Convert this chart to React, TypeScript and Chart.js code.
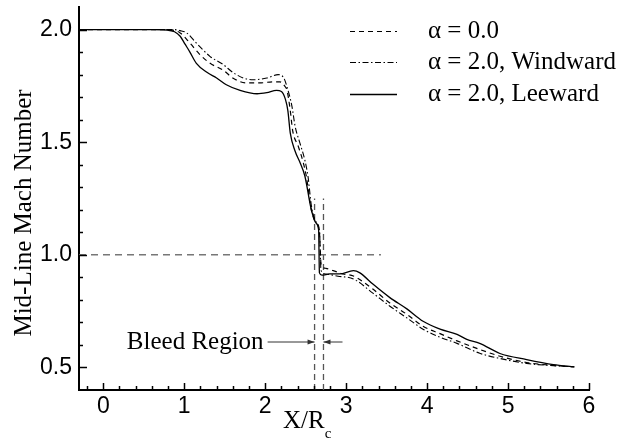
import React, { useEffect, useRef } from "react";
import { Chart, registerables } from "chart.js";

Chart.register(...registerables);

// ---- Axis ticks ----
const xTicks = [0, 1, 2, 3, 4, 5, 6];
const yTicks = [0.5, 1.0, 1.5, 2.0];

// ---- Series: alpha = 0.0 (dashed) ----
const alpha0X = [-0.3, 0.6, 0.85, 0.95, 1.07, 1.19, 1.32, 1.48, 1.6, 1.77, 1.93, 2.1, 2.18, 2.25, 2.27, 2.31, 2.34, 2.41, 2.47, 2.51, 2.57, 2.63, 2.67, 2.69, 2.75, 2.84, 2.96, 3.09, 3.33, 3.54, 3.75, 3.95, 4.16, 4.37, 4.65, 4.9, 5.23, 5.56, 5.82];
const alpha0Y = [2.0, 2.0, 1.997, 1.985, 1.94, 1.89, 1.85, 1.82, 1.785, 1.763, 1.763, 1.768, 1.768, 1.745, 1.73, 1.64, 1.55, 1.48, 1.41, 1.345, 1.2, 1.14, 1.1, 0.96, 0.94, 0.93, 0.915, 0.906, 0.848, 0.786, 0.736, 0.683, 0.65, 0.618, 0.58, 0.55, 0.522, 0.509, 0.503];

// ---- Series: alpha = 2.0, Windward (dash-dot) ----
const windX = [-0.3, 0.6, 0.86, 0.95, 1.03, 1.15, 1.32, 1.48, 1.6, 1.73, 1.85, 2.02, 2.16, 2.23, 2.27, 2.33, 2.37, 2.43, 2.49, 2.53, 2.57, 2.63, 2.67, 2.69, 2.75, 2.9, 3.09, 3.33, 3.54, 3.75, 3.95, 4.16, 4.37, 4.65, 4.9, 5.23, 5.56, 5.82];
const windY = [2.0, 2.0, 2.0, 1.995, 1.985, 1.94, 1.88, 1.845, 1.81, 1.785, 1.777, 1.785, 1.8, 1.785, 1.745, 1.66, 1.57, 1.495, 1.42, 1.345, 1.22, 1.145, 1.11, 0.93, 0.915, 0.905, 0.893, 0.83, 0.772, 0.72, 0.67, 0.634, 0.607, 0.563, 0.54, 0.518, 0.508, 0.503];

// ---- Series: alpha = 2.0, Leeward (solid) ----
const leeX = [-0.3, 0.6, 0.78, 0.88, 0.95, 1.01, 1.07, 1.15, 1.28, 1.4, 1.52, 1.69, 1.9, 2.02, 2.14, 2.2, 2.25, 2.28, 2.31, 2.37, 2.43, 2.49, 2.57, 2.63, 2.66, 2.67, 2.7, 2.8, 2.92, 3.09, 3.17, 3.33, 3.54, 3.75, 3.95, 4.16, 4.37, 4.49, 4.65, 4.9, 5.23, 5.56, 5.82];
const leeY = [2.0, 2.0, 1.998, 1.99, 1.97, 1.935, 1.9, 1.85, 1.81, 1.785, 1.755, 1.73, 1.715, 1.72, 1.73, 1.725, 1.69, 1.64, 1.54, 1.46, 1.41, 1.35, 1.2, 1.14, 1.11, 0.92, 0.91, 0.915, 0.915, 0.93, 0.92, 0.87, 0.81, 0.76, 0.705, 0.67, 0.647, 0.625, 0.607, 0.562, 0.535, 0.513, 0.503];

// ---- Reference lines / annotation ----
const sonicLineX = [-0.3, 3.43];
const sonicLineY = [1.0, 1.0];
const bleedLinesX = [2.61, 2.72];
const bleedLineY = [0.4, 1.25];
const arrowY = 0.613;
const arrowLeftFromX = 2.03;
const arrowRightFromX = 2.955;
const bleedLabel = "Bleed Region";

const legendLabels = ["α = 0.0", "α = 2.0, Windward", "α = 2.0, Leeward"];
const yTitle = "Mid-Line Mach Number";

const SERIF = '"Liberation Serif", "Times New Roman", Times, serif';
const SANS = '"Liberation Sans", Arial, Helvetica, sans-serif';

const zip = (xs: number[], ys: number[]) => xs.map((x, i) => ({ x, y: ys[i] }));

const decorPlugin = {
  id: "decor",
  afterDraw(chart: any) {
    const { ctx, chartArea, scales } = chart;
    const xs = scales.x;
    const ys = scales.y;
    ctx.save();

    // inward ticks
    ctx.strokeStyle = "#000";
    ctx.lineWidth = 1.5;
    ctx.setLineDash([]);
    for (let i = -1; i <= 30; i++) {
      const v = i * 0.2;
      const px = Math.round(xs.getPixelForValue(v)) + 0.5;
      if (px < chartArea.left + 2) continue;
      const len = i % 5 === 0 ? 7 : 4;
      ctx.beginPath();
      ctx.moveTo(px, chartArea.bottom);
      ctx.lineTo(px, chartArea.bottom - len);
      ctx.stroke();
    }
    for (let j = 5; j <= 20; j++) {
      const v = j * 0.1;
      const py = Math.round(ys.getPixelForValue(v)) + 0.5;
      const len = j % 5 === 0 ? 8 : 4;
      ctx.beginPath();
      ctx.moveTo(chartArea.left, py);
      ctx.lineTo(chartArea.left + len, py);
      ctx.stroke();
    }

    // bleed arrows
    const ay = ys.getPixelForValue(arrowY);
    const drawArrow = (fromX: number, toX: number) => {
      const x0 = xs.getPixelForValue(fromX);
      const x1 = xs.getPixelForValue(toX);
      const dir = Math.sign(x1 - x0);
      ctx.strokeStyle = "#333";
      ctx.fillStyle = "#333";
      ctx.lineWidth = 1;
      ctx.beginPath();
      ctx.moveTo(x0, ay);
      ctx.lineTo(x1, ay);
      ctx.stroke();
      ctx.beginPath();
      ctx.moveTo(x1, ay);
      ctx.lineTo(x1 - dir * 7, ay - 2.5);
      ctx.lineTo(x1 - dir * 7, ay + 2.5);
      ctx.closePath();
      ctx.fill();
    };
    drawArrow(arrowLeftFromX, bleedLinesX[0]);
    drawArrow(arrowRightFromX, bleedLinesX[1]);

    ctx.fillStyle = "#000";
    ctx.font = `25px ${SERIF}`;
    ctx.textAlign = "right";
    ctx.textBaseline = "alphabetic";
    ctx.fillText(bleedLabel, xs.getPixelForValue(arrowLeftFromX) - 4, ay + 7);

    // legend
    const rows = [31, 62, 94];
    const dsets = chart.data.datasets;
    for (let i = 0; i < 3; i++) {
      const ds = dsets[i];
      ctx.strokeStyle = ds.borderColor;
      ctx.lineWidth = ds.borderWidth;
      ctx.setLineDash(ds.borderDash || []);
      ctx.beginPath();
      ctx.moveTo(350, rows[i] + 0.5);
      ctx.lineTo(397, rows[i] + 0.5);
      ctx.stroke();
      ctx.setLineDash([]);
      ctx.fillStyle = "#000";
      ctx.font = `25px ${SERIF}`;
      ctx.textAlign = "left";
      ctx.fillText(legendLabels[i], 428, rows[i] + 7);
    }

    // y title
    ctx.save();
    ctx.translate(31, 213);
    ctx.rotate(-Math.PI / 2);
    ctx.textAlign = "center";
    ctx.font = `25px ${SERIF}`;
    ctx.fillText(yTitle, 0, 0);
    ctx.restore();

    // x title with subscript
    ctx.textAlign = "left";
    ctx.font = `25px ${SERIF}`;
    const main = "X/R";
    const w = ctx.measureText(main).width;
    const tx = 283;
    ctx.fillText(main, tx, 428);
    ctx.font = `15px ${SERIF}`;
    ctx.fillText("c", tx + w, 438);

    ctx.restore();
  },
};

export default function App() {
  const ref = useRef<HTMLCanvasElement | null>(null);
  useEffect(() => {
    if (!ref.current) return;
    const refStyle = { borderColor: "#555", borderWidth: 1.3, borderDash: [6, 4], pointRadius: 0, tension: 0, fill: false };
    const chart = new Chart(ref.current, {
      type: "line",
      data: {
        datasets: [
          { label: legendLabels[0], data: zip(alpha0X, alpha0Y), borderColor: "#000", borderWidth: 1.2, borderDash: [5, 4], pointRadius: 0, cubicInterpolationMode: "monotone", fill: false },
          { label: legendLabels[1], data: zip(windX, windY), borderColor: "#000", borderWidth: 1.1, borderDash: [6, 2.5, 1.5, 2.5], pointRadius: 0, cubicInterpolationMode: "monotone", fill: false },
          { label: legendLabels[2], data: zip(leeX, leeY), borderColor: "#000", borderWidth: 1.3, borderDash: [], pointRadius: 0, cubicInterpolationMode: "monotone", fill: false },
          { label: "sonic", data: zip(sonicLineX, sonicLineY), ...refStyle, borderColor: "#777", borderWidth: 1.5, borderDash: [7, 5] },
          { label: "bleed1", data: zip([bleedLinesX[0], bleedLinesX[0]], bleedLineY), ...refStyle },
          { label: "bleed2", data: zip([bleedLinesX[1], bleedLinesX[1]], bleedLineY), ...refStyle },
        ] as any,
      },
      options: {
        animation: false,
        responsive: false,
        devicePixelRatio: 1,
        layout: { padding: { left: 0, right: 45, top: 7, bottom: 0 } },
        plugins: { legend: { display: false }, tooltip: { enabled: false }, title: { display: false } },
        scales: {
          x: {
            type: "linear",
            min: -0.3,
            max: 6,
            grid: { display: false, drawTicks: false },
            border: { display: true, color: "#000", width: 2 },
            ticks: { color: "#000", font: { family: SANS, size: 23 }, padding: 3, callback: (v: any) => String(v) },
            afterBuildTicks: (s: any) => { s.ticks = xTicks.map((v) => ({ value: v })); },
            afterFit: (s: any) => { s.height = 53; s.paddingLeft = 0; s.paddingRight = 0; },
          },
          y: {
            type: "linear",
            min: 0.4,
            max: 2.1,
            grid: { display: false, drawTicks: false },
            border: { display: true, color: "#000", width: 2 },
            ticks: { color: "#000", font: { family: SANS, size: 23 }, padding: 7, callback: (v: any) => Number(v).toFixed(1) },
            afterBuildTicks: (s: any) => { s.ticks = yTicks.map((v) => ({ value: v })); },
            afterFit: (s: any) => { s.width = 79; s.paddingTop = 0; s.paddingBottom = 0; },
          },
        },
      } as any,
      plugins: [decorPlugin],
    });
    return () => chart.destroy();
  }, []);
  return (
    <div style={{ position: "fixed", left: 0, top: 0, width: 634, height: 443, background: "#fff" }}>
      <canvas ref={ref} width={634} height={443} style={{ width: 634, height: 443, display: "block" }} />
    </div>
  );
}
